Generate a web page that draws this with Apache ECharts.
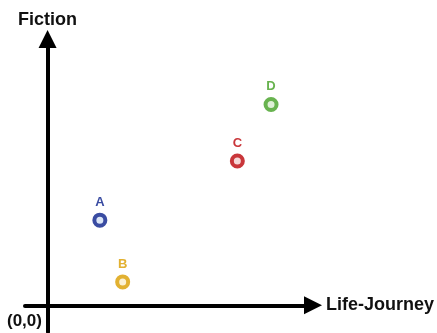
<!DOCTYPE html>
<html>
<head>
<meta charset="utf-8">
<script src="https://cdn.jsdelivr.net/npm/echarts@6/dist/echarts.min.js"></script>
<style>html,body{margin:0;padding:0;background:#fff;}#c{width:437px;height:333px;}</style>
</head>
<body>
<div id="c"></div>
<script>
const names = ['A', 'B', 'C', 'D'];
const lifeJourney = [1.97, 2.83, 7.15, 8.42];
const fiction = [3.2, 0.88, 5.42, 7.54];
const ringColors = ['#3a4ca2', '#e2b131', '#c9363a', '#68b34f'];
const fillColors = ['#dbe6f7', '#fbf1d4', '#f5d8d8', '#def0d6'];
const xAxisName = 'Life-Journey';
const yAxisName = 'Fiction';
const originLabel = '(0,0)';

const font = 'Liberation Sans, Arial, Helvetica, sans-serif';
const chart = echarts.init(document.getElementById('c'));
const axisCommon = {
  type: 'value',
  axisTick: { show: false },
  axisLabel: { show: false },
  splitLine: { show: false },
  axisLine: {
    onZero: true,
    lineStyle: { color: '#000', width: 4 },
    symbol: ['none', 'triangle'],
    symbolSize: [18, 18]
  },
  nameTextStyle: { fontFamily: font, fontWeight: 'bold', fontSize: 18, color: '#111' }
};
chart.setOption({
  animation: false,
  grid: { left: 25, right: 123, top: 39, bottom: 1 },
  xAxis: Object.assign({}, axisCommon, { min: -0.85, max: 10, name: xAxisName, nameGap: 13 }),
  yAxis: Object.assign({}, axisCommon, { min: -1, max: 10, name: yAxisName, nameGap: 10 }),
  graphic: [{
    type: 'text', left: 7, top: 313,
    style: { text: originLabel, font: 'bold 17px ' + font, fill: '#111' }
  }],
  series: [{
    type: 'scatter',
    symbol: 'circle',
    symbolSize: 11,
    data: names.map((n, i) => ({
      name: n,
      value: [lifeJourney[i], fiction[i]],
      itemStyle: { color: fillColors[i], borderColor: ringColors[i], borderWidth: 4, opacity: 1 },
      label: { color: ringColors[i] }
    })),
    label: {
      show: true, position: 'top', distance: 4,
      formatter: p => p.name,
      fontFamily: font, fontWeight: 'bold', fontSize: 13
    }
  }]
});
</script>
</body>
</html>
